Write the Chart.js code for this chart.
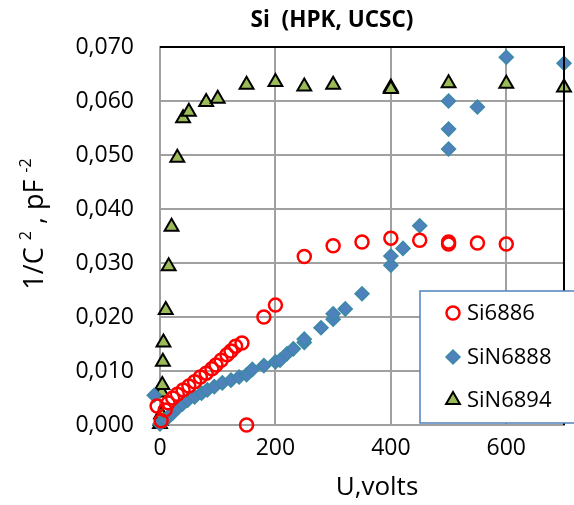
<!DOCTYPE html>
<html>
<head>
<meta charset="utf-8">
<script src="https://cdn.jsdelivr.net/npm/chart.js@4/dist/chart.umd.min.js"></script>
<style>
  html, body { margin: 0; padding: 0; background: #fff; }
  #wrap { width: 574px; height: 505px; }
</style>
</head>
<body>
<div id="wrap"><canvas id="c" width="574" height="505"></canvas></div>
<script>
// Si (HPK, UCSC) — 1/C^2 vs bias voltage
const FONT = '"Open Sans", "DejaVu Sans", sans-serif';

const xTicks = [0, 200, 400, 600];
const yTicks = [0, 0.01, 0.02, 0.03, 0.04, 0.05, 0.06, 0.07];

// Si6886 (red circles)
const si6886V = [-5, 2, 9, 14, 22, 30, 40, 50, 60, 70, 80, 90, 97, 106, 116, 123, 131, 142, 150, 180, 200, 250, 300, 350, 400, 450, 500, 500, 550, 600];
const si6886C = [0.0035, 0.0008, 0.0028, 0.0041, 0.0050, 0.0057, 0.0065, 0.0072, 0.0080, 0.0089, 0.0096, 0.0104, 0.0111, 0.0120, 0.0130, 0.0137, 0.0146, 0.0152, 0.0000, 0.0200, 0.0222, 0.0312, 0.0332, 0.0339, 0.0346, 0.0342, 0.0339, 0.0335, 0.0337, 0.0335];

// SiN6888 (blue diamonds)
const sin6888V = [-10, 0, 3, 9, 14, 22, 31, 39, 48, 60, 72, 82, 94, 108, 123, 137, 150, 160, 180, 200, 208, 220, 231, 250, 250, 279, 300, 300, 321, 350, 400, 400, 421, 450, 500, 500, 500, 550, 600, 700];
const sin6888C = [0.0055, 0.0002, 0.0006, 0.0009, 0.0015, 0.0022, 0.0032, 0.0039, 0.0046, 0.0052, 0.0059, 0.0065, 0.0071, 0.0078, 0.0083, 0.0089, 0.0093, 0.0103, 0.0110, 0.0117, 0.0120, 0.0132, 0.0141, 0.0153, 0.0159, 0.0180, 0.0196, 0.0206, 0.0215, 0.0243, 0.0296, 0.0313, 0.0327, 0.0369, 0.0511, 0.0548, 0.0600, 0.0589, 0.0681, 0.0670];

// SiN6894 (green triangles)
const sin6894V = [0, 1, 2, 3, 4, 5, 6, 10, 15, 20, 30, 40, 50, 80, 100, 150, 200, 250, 300, 400, 400, 500, 600, 700];
const sin6894C = [0.0002, 0.0008, 0.0020, 0.0060, 0.0074, 0.0117, 0.0153, 0.0213, 0.0294, 0.0367, 0.0495, 0.0568, 0.0580, 0.0598, 0.0604, 0.0630, 0.0635, 0.0627, 0.0630, 0.0625, 0.0622, 0.0633, 0.0632, 0.0625];

const pts = (xs, ys) => xs.map((x, i) => ({x, y: ys[i]}));

const datasets = [
  {label: 'Si6886', data: pts(si6886V, si6886C), pointStyle: 'circle', pointRadius: 6.5,
   borderColor: '#ff0000', backgroundColor: 'rgba(255,255,255,0)', pointBorderWidth: 2.5, clip: false},
  {label: 'SiN6888', data: pts(sin6888V, sin6888C), pointStyle: 'rectRot', pointRadius: 7,
   borderColor: '#3b8aa6', backgroundColor: '#4f81bd', pointBorderWidth: 1.5, clip: false},
  {label: 'SiN6894', data: pts(sin6894V, sin6894C), pointStyle: 'triangle', pointRadius: 8,
   borderColor: '#000000', backgroundColor: '#9bbb59', pointBorderWidth: 2, clip: false}
];

const comma = v => v.toFixed(3).replace('.', ',');

// draws text pieces in a row, small raised ones for superscripts
function runText(ctx, parts, x, y) {
  let total = 0;
  parts.forEach(p => { ctx.font = p[1] + 'px ' + FONT; total += ctx.measureText(p[0]).width; });
  let cx = x - total / 2;
  ctx.textAlign = 'left';
  parts.forEach(p => {
    ctx.font = p[1] + 'px ' + FONT;
    ctx.fillText(p[0], cx, y + (p[2] || 0));
    cx += ctx.measureText(p[0]).width;
  });
}

// frame, titles and legend drawn on the canvas
const decor = {
  id: 'decor',
  afterDatasetsDraw(chart) {
    const {ctx, chartArea: a} = chart;
    ctx.save();
    // black top/right frame
    ctx.strokeStyle = '#000'; ctx.lineWidth = 2;
    ctx.beginPath(); ctx.moveTo(a.left, a.top); ctx.lineTo(a.right, a.top); ctx.lineTo(a.right, a.bottom); ctx.stroke();

    // titles
    ctx.fillStyle = '#000'; ctx.textAlign = 'center'; ctx.textBaseline = 'middle';
    ctx.font = 'bold 22.5px ' + FONT;
    ctx.fillText('Si  (HPK, UCSC)', 332, 21);
    ctx.font = '26px ' + FONT;
    ctx.fillText('U,volts', 377, 488);
    ctx.translate(35, 224); ctx.rotate(-Math.PI / 2);
    runText(ctx, [['1/C ', 27], ['2', 16, -9], [' , pF ', 27], ['-2', 16, -9]], 0, 0);
    ctx.setTransform(1, 0, 0, 1, 0, 0);

    // legend box
    ctx.fillStyle = '#fff'; ctx.fillRect(420, 291, 160, 132);
    ctx.strokeStyle = '#4f81bd'; ctx.lineWidth = 1.5; ctx.strokeRect(420, 291, 160, 132);
    ctx.font = '22px ' + FONT; ctx.textAlign = 'left'; ctx.fillStyle = '#000';
    const rows = [313, 357, 400];
    chart.data.datasets.forEach((ds, i) => {
      ctx.save();
      ctx.fillStyle = ds.backgroundColor; ctx.strokeStyle = ds.borderColor; ctx.lineWidth = ds.pointBorderWidth;
      Chart.helpers.drawPoint(ctx, {pointStyle: ds.pointStyle, radius: ds.pointRadius, borderWidth: ds.pointBorderWidth}, 453, rows[i]);
      ctx.restore();
      ctx.fillText(ds.label, 467, rows[i] + 1);
    });
    ctx.restore();
  }
};

new Chart(document.getElementById('c'), {
  type: 'scatter',
  data: {datasets},
  options: {
    responsive: false, animation: false,
    layout: {padding: {top: 47, right: 2, left: 0, bottom: 0}},
    plugins: {legend: {display: false}, title: {display: false}, tooltip: {enabled: false}},
    scales: {
      x: {
        min: 0, max: 700,
        afterBuildTicks: s => { s.ticks = xTicks.map(v => ({value: v})); },
        afterFit: s => { s.height = 80; },
        grid: {color: '#a0a0a0', lineWidth: 2, drawTicks: false},
        border: {color: '#a0a0a0', width: 2},
        ticks: {color: '#000', font: {family: FONT, size: 23}, padding: 10, maxRotation: 0}
      },
      y: {
        min: 0, max: 0.07,
        afterBuildTicks: s => { s.ticks = yTicks.map(v => ({value: v})); },
        afterFit: s => { s.width = 160; },
        grid: {color: '#a0a0a0', lineWidth: 2, drawTicks: false},
        border: {color: '#a0a0a0', width: 2},
        ticks: {color: '#000', font: {family: FONT, size: 23}, padding: 26, callback: v => comma(v)}
      }
    }
  },
  plugins: [decor]
});
</script>
</body>
</html>
